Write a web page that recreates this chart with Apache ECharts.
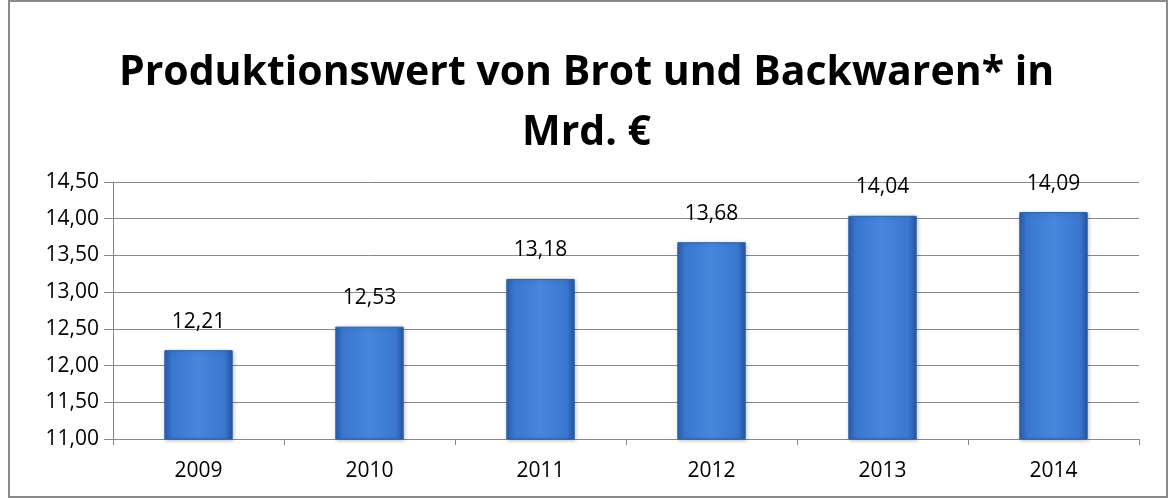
<!DOCTYPE html>
<html>
<head>
<meta charset="utf-8">
<script src="https://cdn.jsdelivr.net/npm/echarts@6/dist/echarts.min.js"></script>
<style>
  html, body { margin: 0; padding: 0; background: #fff; }
  #chart { width: 1173px; height: 499px; }
</style>
</head>
<body>
<div id="chart"></div>
<script>
// Jahre und Werte (Mrd. €)
const years = ['2009', '2010', '2011', '2012', '2013', '2014'];
const values = [12.21, 12.53, 13.18, 13.68, 14.04, 14.09];

const fmt = v => v.toFixed(2).replace('.', ',');

const chart = echarts.init(document.getElementById('chart'));
chart.setOption({
  animation: false,
  backgroundColor: '#fff',
  graphic: [{
    type: 'rect',
    shape: { x: 9, y: 1, width: 1158, height: 496 },
    style: { fill: 'none', stroke: '#8c8c8c', lineWidth: 2 }
  }],
  title: {
    text: 'Produktionswert von Brot und Backwaren* in\nMrd. €',
    left: 'center',
    top: 38,
    textStyle: {
      fontFamily: 'Open Sans',
      fontWeight: 'bold',
      fontSize: 41,
      lineHeight: 60,
      color: '#000'
    }
  },
  grid: { left: 113, right: 34, top: 182, bottom: 60 },
  xAxis: {
    type: 'category',
    data: years,
    axisLine: { lineStyle: { color: '#888', width: 1 } },
    axisTick: { show: true, length: 6, lineStyle: { color: '#888' } },
    axisLabel: { color: '#000', fontSize: 21, fontFamily: 'Open Sans', margin: 22 }
  },
  yAxis: {
    type: 'value',
    min: 11,
    max: 14.5,
    interval: 0.5,
    axisLine: { show: true, lineStyle: { color: '#888', width: 1 } },
    axisTick: { show: true, length: 9, lineStyle: { color: '#888' } },
    splitLine: { lineStyle: { color: '#888', width: 1 } },
    axisLabel: {
      color: '#000', fontSize: 21, fontFamily: 'Open Sans', margin: 14,
      formatter: v => fmt(v)
    }
  },
  series: [{
    type: 'bar',
    data: values,
    barWidth: '40%',
    itemStyle: {
      color: new echarts.graphic.LinearGradient(0, 0, 1, 0, [
        { offset: 0, color: '#2a5fae' },
        { offset: 0.12, color: '#3a78d0' },
        { offset: 0.5, color: '#4787dc' },
        { offset: 0.88, color: '#3a78d0' },
        { offset: 1, color: '#24569f' }
      ]),
      borderColor: '#2b5ea8',
      borderWidth: 1,
      shadowColor: 'rgba(0,0,0,0.25)',
      shadowBlur: 4,
      shadowOffsetX: 1,
      shadowOffsetY: 1
    },
    label: {
      show: true,
      position: 'top',
      distance: 18,
      color: '#000',
      fontSize: 21,
      fontFamily: 'Open Sans',
      formatter: p => fmt(p.value)
    }
  }]
});
</script>
</body>
</html>
